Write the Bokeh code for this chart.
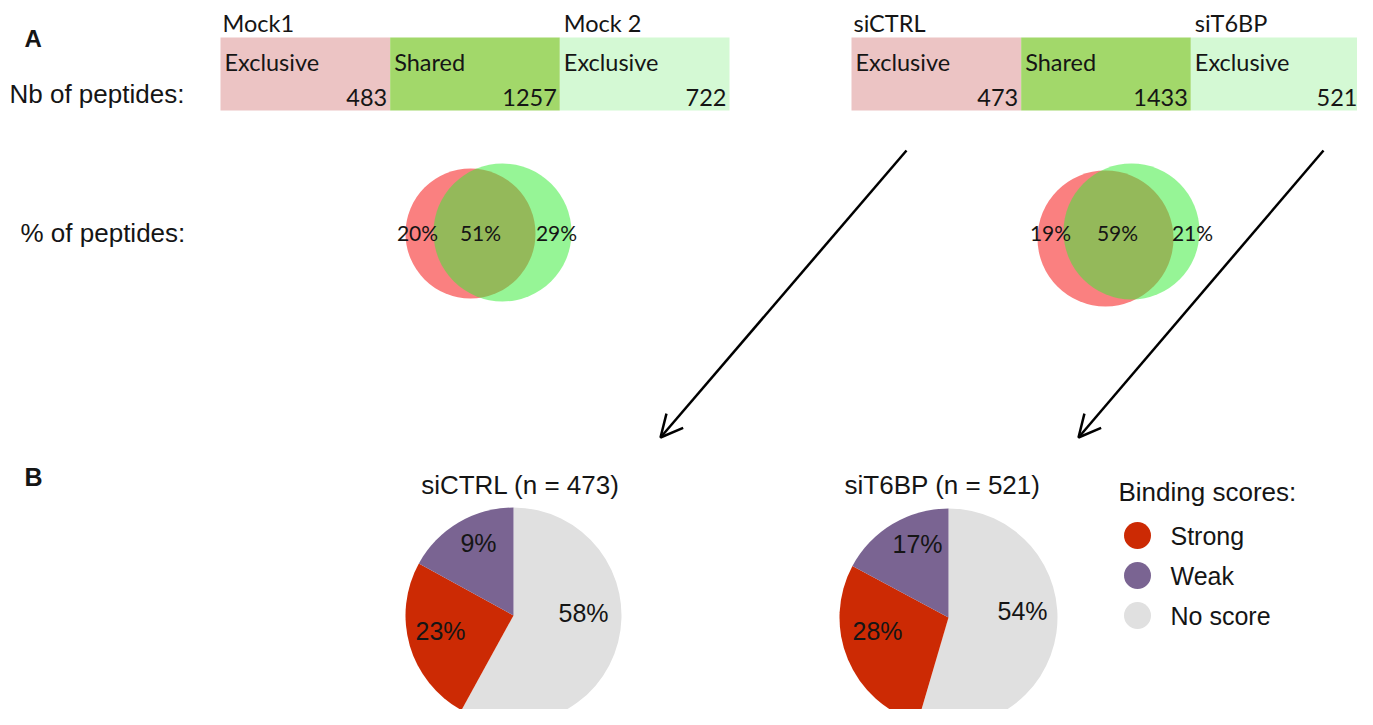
import math
from bokeh.plotting import figure
from bokeh.models import Range1d, Arrow, OpenHead
from bokeh.core.properties import value
from bokeh.embed import file_html
from bokeh.resources import INLINE

# ---------------- data ----------------
mock_names = ["Mock1", "Mock 2"]
si_names = ["siCTRL", "siT6BP"]
box_labels = ["Exclusive", "Shared", "Exclusive"]
mock_counts = [483, 1257, 722]
si_counts = [473, 1433, 521]
mock_pct = ["20%", "51%", "29%"]
si_pct = ["19%", "59%", "21%"]
row_labels = ["Nb of peptides:", "% of peptides:"]
categories = ["No score", "Strong", "Weak"]
sictrl_values = [58, 25, 17]
sictrl_labels = ["58%", "23%", "9%"]
sit6bp_values = [54, 28, 17]
sit6bp_labels = ["54%", "28%", "17%"]
pie_titles = ["siCTRL (n = 473)", "siT6BP (n = 521)"]
legend_title = "Binding scores:"
legend_order = ["Strong", "Weak", "No score"]

# ---------------- style / layout ----------------
W, H = 1357, 709
ARIAL = value("Liberation Sans")
CALIBRI = value("Lato")
TXT = "#151515"
box_colors = ["#ECC4C4", "#A2D86A", "#D4F9D4"]
cat_colors = {"No score": "#E0E0E0", "Strong": "#CC2A04", "Weak": "#7A6492"}
# label offsets (pixels, relative to pie centre) for No score, Strong, Weak
pie1_label_off = [(70, -3), (-73, 15), (-35, -73)]
pie2_label_off = [(74, -7), (-71, 13), (-31, -74)]


def X(x):
    return x


def Y(y):
    return H - y


p = figure(width=W, height=H, output_backend="svg", toolbar_location=None,
           x_range=Range1d(0, W), y_range=Range1d(0, H),
           min_border=0, min_border_left=0, min_border_right=0,
           min_border_top=0, min_border_bottom=0)
p.axis.visible = False
p.grid.visible = False
p.outline_line_color = None
p.background_fill_color = "white"


def txt(x, y, s, font=ARIAL, size="24px", align="left", bold=False, color=TXT):
    p.text(x=[X(x)], y=[Y(y)], text=[s], text_font=font, text_font_size=value(size),
           text_align=align, text_baseline="middle", text_color=color,
           text_font_style="bold" if bold else "normal")


# panel letters and row labels
txt(24, 38, "A", size="24px", bold=True)
txt(24, 476, "B", size="25px", bold=True)
txt(9, 93, row_labels[0], size="26px")
txt(20, 232, row_labels[1], size="26px")

# ---------------- count tables ----------------
def table(x0, x1, names, counts):
    w = (x1 - x0) / 3.0
    lefts = [X(x0 + i * w) for i in range(3)]
    rights = [X(x0 + (i + 1) * w) for i in range(3)]
    p.quad(left=lefts, right=rights, top=[Y(37)] * 3, bottom=[Y(110)] * 3,
           fill_color=box_colors, line_color=None)
    for i in range(3):
        txt(x0 + i * w + 4, 61, box_labels[i], font=CALIBRI, size="23.5px")
        txt(x0 + (i + 1) * w - 3, 97, str(counts[i]), font=CALIBRI, size="23.5px", align="right")
    txt(x0 + 2, 22, names[0], font=CALIBRI, size="23.5px")
    txt(x0 + 2 * w + 4, 22, names[1], font=CALIBRI, size="23.5px")


table(220, 729, mock_names, mock_counts)
table(851, 1360, si_names, si_counts)

# ---------------- venns ----------------
def venn(rc, rr, gc, gr, labels, lx, ly):
    p.circle(x=[X(rc[0])], y=[Y(rc[1])], radius=rr, fill_color="#FA8080", line_color=None)
    p.circle(x=[X(gc[0])], y=[Y(gc[1])], radius=gr, fill_color="#39EC39",
             fill_alpha=0.53, line_color=None)
    for s, x in zip(labels, lx):
        txt(x, ly, s, font=CALIBRI, size="21px", align="center")


venn((470, 233), 65, (502, 232), 69, mock_pct, [417, 480, 556], 232)
venn((1105, 238), 68, (1131, 231), 68, si_pct, [1050, 1117, 1192], 232)

# ---------------- arrows ----------------
for (xs, ys, xe, ye) in [(906, 150, 660, 437), (1323, 150, 1078, 437)]:
    p.add_layout(Arrow(end=OpenHead(size=22, line_width=2.5, line_color="black"),
                       x_start=X(xs), y_start=Y(ys), x_end=X(xe), y_end=Y(ye),
                       line_width=2.5, line_color="black"))

# ---------------- pies ----------------
def pie(cx, cy, r, values, labels, offs, title, tx):
    tot = float(sum(values))
    cum = 0.0
    for cat, v, lab, off in zip(categories, values, labels, offs):
        a0 = math.pi / 2 - 2 * math.pi * cum / tot
        a1 = math.pi / 2 - 2 * math.pi * (cum + v) / tot
        p.wedge(x=[X(cx)], y=[Y(cy)], radius=r, start_angle=a0, end_angle=a1,
                direction="clock", fill_color=cat_colors[cat], line_color=None)
        txt(cx + off[0], cy + off[1], lab, size="25px", align="center")
        cum += v
    txt(tx, 484, title, size="26px", align="center")


pie(513, 615, 108, sictrl_values, sictrl_labels, pie1_label_off, pie_titles[0], 520)
pie(948, 617, 109, sit6bp_values, sit6bp_labels, pie2_label_off, pie_titles[1], 942)

# ---------------- legend ----------------
txt(1118, 491, legend_title, size="26px")
for i, cat in enumerate(legend_order):
    yy = 535 + 40 * i
    p.scatter(x=[X(1137)], y=[Y(yy)], size=27, marker="circle",
              fill_color=cat_colors[cat], line_color=None)
    txt(1170, yy, cat, size="25px")

open("out.html", "w").write(file_html(p, INLINE))
